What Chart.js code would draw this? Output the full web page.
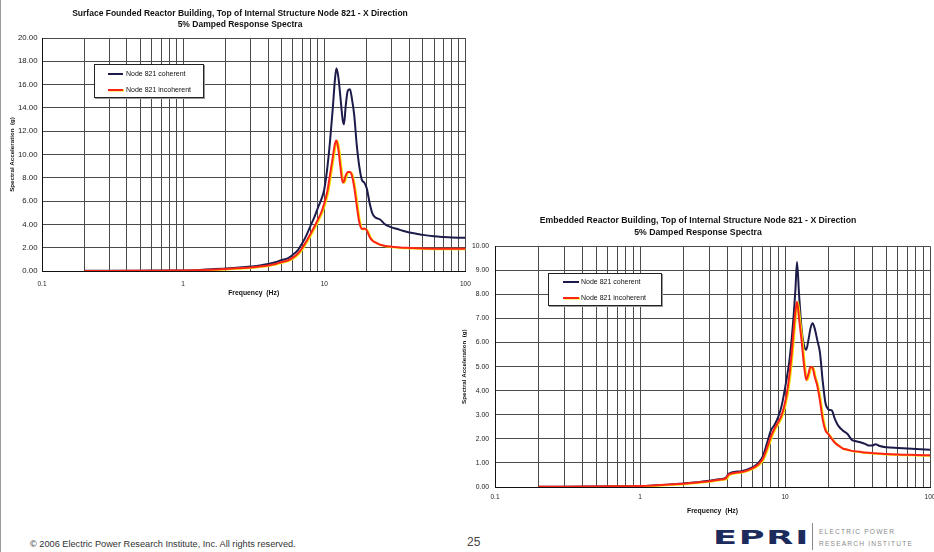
<!DOCTYPE html>
<html>
<head>
<meta charset="utf-8">
<script src="https://cdn.jsdelivr.net/npm/chart.js@4/dist/chart.umd.min.js"></script>
<style>
  html, body { margin: 0; padding: 0; background: #fff; }
  body { width: 934px; height: 552px; overflow: hidden; position: relative;
         font-family: "Liberation Sans", Arial, sans-serif; }
  .pane { position: absolute; }
  canvas { display: block; }
  .legend { position: absolute; background: #fff; border: 1px solid #222;
            box-shadow: 1px 1px 0 #999; box-sizing: border-box; }
  .legend .row { position: absolute; left: 0; height: 10px; font-size: 7px; color: #111; white-space: nowrap; }
  .legend .swatch { position: absolute; height: 2px; }
  .legend .lbl { position: absolute; top: 0; line-height: 10px; }
  .footer { position: absolute; left: 30px; top: 539px; font-size: 9.2px; color: #333; white-space: nowrap; }
  .page { position: absolute; left: 467px; top: 535px; font-size: 12px; color: #444; }
  .logo { position: absolute; left: 713px; top: 526px; font-family: "DejaVu Sans", sans-serif; font-weight: bold;
          font-size: 20px; color: #1d2b5c; letter-spacing: 1px; transform: scaleX(1.76); transform-origin: left top; line-height: 22px; }
  .logo-rule { position: absolute; left: 812px; top: 523px; width: 1px; height: 27px; background: #8a8a8a; }
  .logo-text { position: absolute; left: 819px; font-size: 6.6px; color: #8a8a8a; letter-spacing: 1.2px; white-space: nowrap; }
  .edge { position: absolute; left: 0; top: 0; width: 1px; height: 552px; background: #9a9a9a; }
</style>
</head>
<body>
<div class="edge"></div>

<div class="pane" style="left:0px; top:0px;"><canvas id="surface" width="480" height="300"></canvas></div>
<div class="pane" style="left:456px; top:205px;"><canvas id="embedded" width="490" height="315"></canvas></div>

<div class="legend" id="legSurface" style="left:94px; top:64px; width:110px; height:34px;"></div>
<div class="legend" id="legEmbedded" style="left:548px; top:273px; width:114px; height:33px;"></div>

<div class="footer">© 2006 Electric Power Research Institute, Inc. All rights reserved.</div>
<div class="page">25</div>
<div class="logo">EPRI</div>
<div class="logo-rule"></div>
<div class="logo-text" style="top:528px;">ELECTRIC POWER</div>
<div class="logo-text" style="top:540px;">RESEARCH INSTITUTE</div>

<script>
// ---- Series names and colours ----
const seriesNames = ['Node 821 coherent', 'Node 821 incoherent'];
const seriesColors = ['#1c1b4a', '#ff2418'];
const incoherentFringe = '#f2e400';

// ---- Frequency axis ticks (Hz) ----
const xTickValues = [0.1, 1, 10, 100];
const xTickLabels = ['0.1', '1', '10', '100'];

// ---- Surface founded reactor building, node 821, X direction ----
const surfaceFreq = [0.2, 0.3, 0.5, 0.7, 1.0, 1.3, 1.6, 2.0, 2.5, 3.0, 3.5, 4.0, 4.5, 5.0, 5.5, 6.0, 6.5,
  7.0, 7.5, 8.0, 8.5, 9.0, 9.5, 10.0, 10.5, 11.0, 11.5, 11.9, 12.2, 12.6, 13.0, 13.5, 13.8, 14.2, 14.7,
  15.2, 15.7, 16.3, 17.0, 17.7, 18.5, 19.2, 20.0, 21, 22, 23, 24, 25, 27, 30, 33, 36, 40, 45, 50, 60, 70, 80, 90, 100];
const surfaceCoherent = [0.02, 0.02, 0.03, 0.04, 0.05, 0.09, 0.14, 0.22, 0.30, 0.38, 0.47, 0.60, 0.75, 0.95, 1.08, 1.40, 1.80,
  2.40, 3.10, 3.90, 4.60, 5.40, 6.10, 7.00, 8.80, 11.2, 14.0, 16.4, 17.4, 16.6, 15.0, 13.0, 12.6, 14.2, 15.5,
  15.6, 14.8, 13.4, 10.8, 9.0, 7.8, 7.6, 7.1, 5.8, 4.9, 4.6, 4.5, 4.4, 4.0, 3.75, 3.6, 3.45, 3.3, 3.2, 3.1, 2.98, 2.92, 2.88, 2.86, 2.85];
const surfaceIncoherent = [0.01, 0.01, 0.02, 0.03, 0.04, 0.07, 0.11, 0.17, 0.24, 0.30, 0.38, 0.48, 0.60, 0.78, 0.90, 1.15, 1.50,
  2.00, 2.60, 3.20, 3.80, 4.40, 5.00, 5.80, 6.80, 8.30, 9.80, 10.9, 11.2, 10.4, 9.0, 7.6, 7.7, 8.2, 8.5,
  8.5, 8.2, 7.2, 5.6, 4.2, 3.6, 3.65, 3.5, 2.9, 2.6, 2.45, 2.35, 2.25, 2.15, 2.08, 2.03, 2.0, 1.98, 1.96, 1.94, 1.92, 1.91, 1.9, 1.9, 1.9];

// ---- Embedded reactor building, node 821, X direction ----
const embeddedFreq = [0.2, 0.3, 0.5, 0.7, 1.0, 1.3, 1.6, 2.0, 2.5, 3.0, 3.5, 3.9, 4.1, 5.0, 5.9, 6.5, 7.0, 7.5, 8.0, 8.5,
  9.0, 9.5, 10.2, 10.7, 11.1, 11.5, 11.8, 12.1, 12.5, 13.0, 13.5, 14.0, 14.5, 15.0, 15.5, 16.0, 16.7, 17.4, 18.2,
  19.0, 19.5, 20.2, 21, 22, 23, 24, 25, 27, 29, 31, 33, 36, 38, 40, 42, 45, 50, 60, 70, 80, 100];
const embeddedCoherent = [0.01, 0.01, 0.02, 0.03, 0.04, 0.07, 0.10, 0.15, 0.20, 0.26, 0.32, 0.38, 0.56, 0.66, 0.80, 0.98, 1.25, 1.80, 2.35, 2.60,
  2.92, 3.40, 4.40, 5.20, 6.10, 7.20, 8.20, 9.35, 8.00, 6.60, 5.90, 5.70, 6.10, 6.60, 6.80, 6.60, 6.10, 5.60, 4.40,
  3.50, 3.30, 3.20, 3.18, 2.85, 2.60, 2.45, 2.35, 2.20, 1.95, 1.90, 1.86, 1.78, 1.72, 1.72, 1.78, 1.70, 1.65, 1.62, 1.60, 1.58, 1.55];
const embeddedIncoherent = [0.01, 0.01, 0.02, 0.03, 0.04, 0.07, 0.10, 0.14, 0.19, 0.24, 0.30, 0.36, 0.52, 0.62, 0.76, 0.92, 1.15, 1.60, 2.10, 2.45,
  2.70, 3.00, 3.75, 4.60, 5.50, 6.60, 7.30, 7.70, 7.00, 6.10, 5.10, 4.45, 4.70, 5.00, 4.95, 4.60, 4.20, 3.60, 2.80,
  2.35, 2.25, 2.15, 2.00, 1.85, 1.75, 1.67, 1.60, 1.55, 1.50, 1.48, 1.46, 1.43, 1.42, 1.41, 1.40, 1.39, 1.37, 1.35, 1.34, 1.33, 1.32];

// Gridline positions on the frequency axis: 1..9 within each decade
function logGrid(min, max) {
  const vals = [];
  for (let d = min; d < max * 0.999; d *= 10) {
    for (let k = 1; k <= 9; k++) vals.push(Number((k * d).toPrecision(3)));
  }
  vals.push(max);
  return vals;
}
function freqLabel(v) {
  for (let i = 0; i < xTickValues.length; i++) {
    if (Math.abs(v - xTickValues[i]) < 1e-9 * Math.max(1, v)) return xTickLabels[i];
  }
  return '';
}

// Draws the incoherent trace with a thin yellow edge
const fringePlugin = {
  id: 'fringe',
  beforeDatasetDraw(chart, args) {
    const ds = chart.data.datasets[args.index];
    if (ds.fringe) {
      const c = chart.ctx;
      c.save();
      c.shadowColor = ds.fringe;
      c.shadowOffsetX = 1.0;
      c.shadowOffsetY = 0.5;
      c.shadowBlur = 0.3;
    }
  },
  afterDatasetDraw(chart, args) {
    if (chart.data.datasets[args.index].fringe) chart.ctx.restore();
  }
};

const whiteBg = {
  id: 'whiteBg',
  beforeDraw(chart) {
    const { ctx, chartArea: a } = chart;
    ctx.save();
    ctx.fillStyle = '#fff';
    ctx.fillRect(a.left, a.top, a.right - a.left, a.bottom - a.top);
    ctx.restore();
  }
};

const FONT = '"Liberation Sans", Arial, sans-serif';

function buildChart(id, cfg) {
  const pts = (fr, vals) => fr.map((f, i) => ({ x: f, y: vals[i] }));
  return new Chart(document.getElementById(id), {
    type: 'line',
    data: {
      datasets: [
        { label: seriesNames[0], data: pts(cfg.freq, cfg.coherent), borderColor: seriesColors[0],
          borderWidth: 2, pointRadius: 0, cubicInterpolationMode: 'monotone', order: 1 },
        { label: seriesNames[1], data: pts(cfg.freq, cfg.incoherent), borderColor: seriesColors[1],
          borderWidth: 2, pointRadius: 0, cubicInterpolationMode: 'monotone', order: 0, fringe: incoherentFringe }
      ]
    },
    options: {
      responsive: false,
      animation: false,
      parsing: false,
      layout: { padding: cfg.padding },
      plugins: {
        legend: { display: false },
        tooltip: { enabled: false },
        title: {
          display: true,
          text: cfg.title,
          color: '#111',
          font: { family: FONT, size: cfg.titleSize, weight: 'bold', lineHeight: cfg.titleLH },
          padding: cfg.titlePad
        }
      },
      scales: {
        x: {
          type: 'logarithmic',
          min: 0.1, max: 100,
          afterBuildTicks: s => { s.ticks = logGrid(0.1, 100).map(v => ({ value: v })); },
          afterFit: s => { s.height = cfg.xHeight; },
          ticks: { autoSkip: false, maxRotation: 0, minRotation: 0, padding: cfg.xTickPad, color: '#222',
                   font: { family: FONT, size: cfg.xTickSize }, callback: v => freqLabel(v) },
          grid: { color: '#4a4a4a', lineWidth: 1, drawTicks: false },
          border: { color: '#111', width: 1 },
          title: { display: true, text: 'Frequency  (Hz)', color: '#111',
                   font: { family: FONT, size: 6.8, weight: 'bold' }, padding: { top: 0, bottom: cfg.xTitlePad } }
        },
        y: {
          min: 0, max: cfg.yMax,
          afterFit: s => { s.width = cfg.yWidth; },
          ticks: { stepSize: cfg.yStep, padding: cfg.yTickPad, color: '#222',
                   font: { family: FONT, size: cfg.yTickSize }, callback: v => Number(v).toFixed(2) },
          grid: { color: '#4a4a4a', lineWidth: 1, drawTicks: false },
          border: { color: '#111', width: 1 },
          title: { display: true, text: 'Spectral Acceleration  (g)', color: '#111',
                   font: { family: FONT, size: 6.2, weight: 'bold' }, padding: { top: cfg.yTitlePad, bottom: 0 } }
        }
      }
    },
    plugins: [whiteBg, fringePlugin]
  });
}

buildChart('surface', {
  freq: surfaceFreq, coherent: surfaceCoherent, incoherent: surfaceIncoherent,
  title: ['Surface Founded Reactor Building, Top of Internal Structure Node 821 - X Direction', '5% Damped Response Spectra'],
  titleSize: 8.5, titleLH: 1.2, titlePad: { top: 8.9, bottom: 8.7 },
  padding: { left: 14, right: 14, top: 0, bottom: 0 },
  xHeight: 29, xTickPad: 9.2, xTickSize: 6.5, xTitlePad: 3.2,
  yMax: 20, yStep: 2, yWidth: 28, yTickPad: 4.5, yTickSize: 7.8, yTitlePad: -5.7
});

buildChart('embedded', {
  freq: embeddedFreq, coherent: embeddedCoherent, incoherent: embeddedIncoherent,
  title: ['Embedded Reactor Building, Top of Internal Structure Node 821 - X Direction', '5% Damped Response Spectra'],
  titleSize: 8.7, titleLH: 1.28, titlePad: { top: 10.5, bottom: 8.5 },
  padding: { left: 10, right: 16, top: 0, bottom: 0 },
  xHeight: 33, xTickPad: 6.2, xTickSize: 6.5, xTitlePad: 5.2,
  yMax: 10, yStep: 1, yWidth: 29, yTickPad: 6, yTickSize: 6.8, yTitlePad: -5.7
});

// In-plot legends
function buildLegend(elId, rows, swX, swW, txtX) {
  const box = document.getElementById(elId);
  seriesNames.forEach((name, i) => {
    const row = document.createElement('div');
    row.className = 'row';
    row.style.top = (rows[i] - 5) + 'px';
    row.style.width = '100%';
    const sw = document.createElement('div');
    sw.className = 'swatch';
    sw.style.left = swX + 'px';
    sw.style.width = swW + 'px';
    sw.style.top = '4px';
    sw.style.background = seriesColors[i];
    if (i === 1) sw.style.boxShadow = '1px 0.5px 0 ' + incoherentFringe;
    const t = document.createElement('div');
    t.className = 'lbl';
    t.style.left = txtX + 'px';
    t.textContent = name;
    row.appendChild(sw);
    row.appendChild(t);
    box.appendChild(row);
  });
}
buildLegend('legSurface', [9, 25], 13, 15, 31);
buildLegend('legEmbedded', [8, 24], 14, 16, 32);
</script>
</body>
</html>
